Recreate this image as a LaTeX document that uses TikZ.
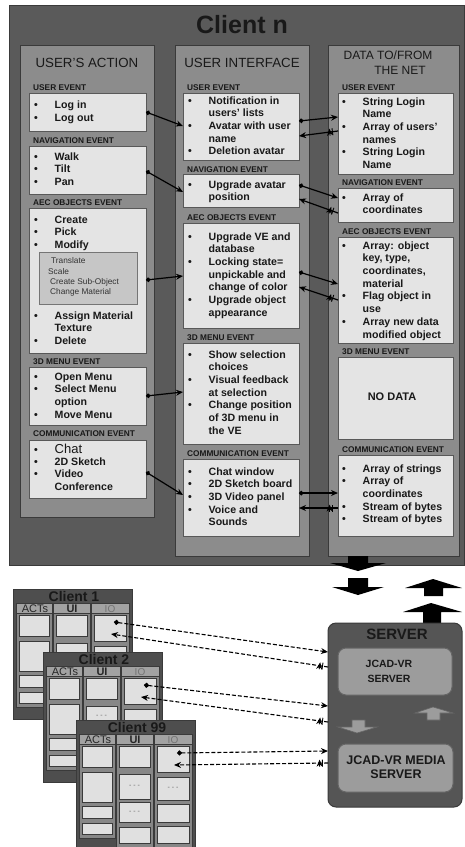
\documentclass[tikz,border=0pt]{standalone}
\usepackage{fontspec}
\setmainfont{Liberation Sans}
\usetikzlibrary{arrows.meta,decorations.markings}

\definecolor{outerc}{HTML}{5A5A5A}
\definecolor{colc}{HTML}{8C8C8C}
\definecolor{boxc}{HTML}{E4E4E4}
\definecolor{edgec}{HTML}{3A3A3A}
\definecolor{subc}{HTML}{C6C6C6}
\definecolor{srvc}{HTML}{555555}
\definecolor{srvinc}{HTML}{9C9C9C}
\definecolor{mcoutc}{HTML}{4E4E4E}
\definecolor{mccolc}{HTML}{878787}
\definecolor{mchdrc}{HTML}{A2A2A2}
\definecolor{mcboxc}{HTML}{E0E0E0}

\newcommand{\myitem}{\fontsize{10.6}{12.7}\selectfont\bfseries}
\newcommand{\mysec}{\fontsize{8.3}{9}\selectfont\bfseries}
\newcommand{\myhdr}{\fontsize{13.3}{14}\selectfont}
\newcommand{\mybul}{\strut\makebox[20.5pt][l]{\textbullet}}
\newcommand{\mycnt}{\strut\hspace*{20.5pt}}

\newcommand{\bx}[6]{\node[#6, inner sep=0pt, outer sep=0pt, minimum width={#4-#2}, minimum height={#5-#3}, anchor=north west] (#1) at (#2,#3) {};}

\tikzset{
  outerbox/.style={draw=edgec, fill=outerc, line width=0.8pt},
  colbox/.style={draw=edgec, fill=colc, line width=1pt},
  wbox/.style={draw=edgec!85, fill=boxc, line width=1pt},
  subbox/.style={draw=edgec!70, fill=subc, line width=0.8pt},
  items/.style={font=\myitem, align=left, inner sep=0pt, anchor=north west, text=black!90},
  sec/.style={font=\mysec, anchor=base west, inner sep=0pt, text=black!90},
  hdr/.style={font=\myhdr, inner sep=0pt, text=black!90},
  subtxt/.style={font=\fontsize{8.3}{9}\selectfont, anchor=base west, inner sep=0pt, text=black!80},
  conn/.style={draw=black, line width=1.2pt, {Circle[length=4.5pt]}-{Stealth[length=7pt,width=6pt]}},
  connb/.style={draw=black, line width=1.2pt, -{Stealth[length=7pt,width=6pt]}},
  tick/.style={postaction={decorate, decoration={markings, mark=at position 7pt with {\draw[solid, line width=0.9pt] (-1.4,-3.5) -- (-1.4,3.5) (1.4,-3.5) -- (1.4,3.5);}}}},
  dconn/.style={draw=black, line width=1.1pt, dash pattern=on 4pt off 2pt, {Circle[length=5pt]}-{Stealth[length=7pt,width=6pt]}},
  dconnb/.style={draw=black, line width=1.1pt, dash pattern=on 4pt off 2pt, -{Stealth[length=7pt,width=6pt]}},
  blk/.style={fill=black},
  gblk/.style={fill=srvinc, draw=black!60, line width=0.6pt},
  mcout/.style={draw=edgec, fill=mcoutc, line width=0.8pt},
  mccol/.style={draw=edgec, fill=mccolc, line width=0.8pt},
  mchdr/.style={draw=edgec, fill=mchdrc, line width=0.6pt},
  mcbox/.style={draw=edgec, fill=mcboxc, line width=0.8pt},
  dashtxt/.style={font=\fontsize{7}{7}\selectfont, text=black!60, inner sep=0pt},
  srvbox/.style={draw=edgec, fill=srvc, line width=1pt, rounded corners=8pt},
  srvin/.style={draw=black!60, fill=srvinc, line width=1pt, rounded corners=8pt},
}

\newcommand{\miniclient}[4]{%
\begin{scope}[shift={(#2,#3)}]
\bx{#1}{0}{0}{119}{130}{mcout}
\node[font=\fontsize{14}{14}\selectfont\bfseries, anchor=base, inner sep=0pt, text=black!90] (#1-t) at (61,12) {#4};
\bx{#1-ca}{3}{14}{39}{118}{mccol}
\bx{#1-cb}{40}{14}{77}{127}{mccol}
\bx{#1-cc}{78}{14}{116}{127}{mccol}
\bx{#1-ha}{3}{14}{39}{24}{mchdr}
\bx{#1-hb}{40}{14}{77}{24}{mchdr}
\bx{#1-hc}{78}{14}{116}{24}{mchdr}
\node[font=\fontsize{11}{11}\selectfont, anchor=base, inner sep=0pt, text=black!85] (#1-la) at (22,23) {ACTs};
\node[font=\fontsize{11}{11}\selectfont\bfseries, anchor=base, inner sep=0pt, text=black!85] (#1-lb) at (59,23) {UI};
\node[font=\fontsize{10}{10}\selectfont, anchor=base, inner sep=0pt, text=black!55] (#1-lc) at (97,23) {IO};
\bx{#1-a1}{6}{26}{36}{47}{mcbox}
\bx{#1-a2}{6}{52}{36}{82}{mcbox}
\bx{#1-a3}{6}{86}{36}{98}{mcbox}
\bx{#1-a4}{6}{103}{36}{114}{mcbox}
\bx{#1-b1}{43}{26}{74}{47}{mcbox}
\bx{#1-b2}{43}{54}{74}{79}{mcbox}
\bx{#1-b3}{43}{82}{74}{102}{mcbox}
\bx{#1-b4}{43}{107}{74}{123}{mcbox}
\bx{#1-c1}{81}{26}{113}{52}{mcbox}
\bx{#1-c2}{81}{57}{113}{80}{mcbox}
\bx{#1-c3}{81}{84}{113}{102}{mcbox}
\bx{#1-c4}{81}{106}{113}{123}{mcbox}
\coordinate (#1-o) at (101,33);
\coordinate (#1-i) at (98,45);
\end{scope}}

\begin{document}
\begin{tikzpicture}[x=1pt, y=-1pt]
\useasboundingbox (0,0) rectangle (465,847);
\clip (0,0) rectangle (465,847);
\fill[white] (0,0) rectangle (465,847);

% ---------------- Client n ----------------
\bx{clientn}{9}{5}{464}{565}{outerbox}
\node[font=\fontsize{25}{25}\selectfont\bfseries, anchor=base, inner sep=0pt, text=black!90] (titlen) at (242,33) {Client n};

\bx{colA}{20}{45}{154}{517}{colbox}
\bx{colB}{175}{45}{309}{556}{colbox}
\bx{colC}{328}{45}{459}{556}{colbox}

\node[hdr] (hA) at (87,63) {USER'S ACTION};
\node[hdr] (hB) at (242,63) {USER INTERFACE};
\node[hdr, font=\fontsize{12}{12}\selectfont] (hC1) at (388,55) {DATA TO/FROM};
\node[hdr, font=\fontsize{12}{12}\selectfont] (hC2) at (400,70) {THE NET};

% section labels
\node[sec] (sA1) at (33,90) {USER EVENT};
\node[sec] (sA2) at (33,143) {NAVIGATION EVENT};
\node[sec] (sA3) at (33,205) {AEC OBJECTS EVENT};
\node[sec] (sA4) at (33,364) {3D MENU EVENT};
\node[sec] (sA5) at (33,436) {COMMUNICATION EVENT};
\node[sec] (sB1) at (187,90) {USER EVENT};
\node[sec] (sB2) at (187,172) {NAVIGATION EVENT};
\node[sec] (sB3) at (187,220) {AEC OBJECTS EVENT};
\node[sec] (sB4) at (187,340) {3D MENU EVENT};
\node[sec] (sB5) at (187,456) {COMMUNICATION EVENT};
\node[sec] (sC1) at (342,90) {USER EVENT};
\node[sec] (sC2) at (342,185) {NAVIGATION EVENT};
\node[sec] (sC3) at (342,234) {AEC OBJECTS EVENT};
\node[sec] (sC4) at (342,354) {3D MENU EVENT};
\node[sec] (sC5) at (342,452) {COMMUNICATION EVENT};

% white boxes
\bx{ua1}{29}{93}{146}{131}{wbox}
\bx{ua2}{29}{146}{146}{194}{wbox}
\bx{ua3}{29}{208}{146}{353}{wbox}
\bx{ua4}{29}{367}{146}{425}{wbox}
\bx{ua5}{29}{440}{146}{498}{wbox}
\bx{ui1}{183}{93}{299}{160}{wbox}
\bx{ui2}{183}{174}{299}{207}{wbox}
\bx{ui3}{183}{223}{299}{328}{wbox}
\bx{ui4}{183}{343}{299}{444}{wbox}
\bx{ui5}{183}{459}{299}{536}{wbox}
\bx{nd1}{338}{93}{453}{174}{wbox}
\bx{nd2}{338}{188}{453}{222}{wbox}
\bx{nd3}{338}{237}{453}{343}{wbox}
\bx{nd4}{338}{357}{453}{439}{wbox}
\bx{nd5}{338}{455}{453}{536}{wbox}
\bx{subA}{39}{252}{137}{304}{subbox}

% left texts
\node[items] (ta1) at (34,99.6) {\mybul Log in\\\mybul Log out};
\node[items] (ta2) at (34,151.1) {\mybul Walk\\\mybul Tilt\\\mybul Pan};
\node[items] (ta3a) at (34,214.1) {\mybul Create\\\mybul Pick\\\mybul Modify};
\node[subtxt] (tsa) at (51,263) {Translate};
\node[subtxt] (tsb) at (48,274) {Scale};
\node[subtxt] (tsc) at (50,284) {Create Sub-Object};
\node[subtxt] (tsd) at (50,294) {Change Material};
\node[items] (ta3b) at (34,310.1) {\mybul Assign Material\\\mycnt Texture\\\mybul Delete};
\node[items] (ta4) at (34,371.1) {\mybul Open Menu\\\mybul Select Menu\\\mycnt option\\\mybul Move Menu};
\node[items] (ta5a) at (34,444.1) {\mybul{\fontsize{13}{12.7}\selectfont\mdseries Chat}};
\node[items] (ta5b) at (34,456.1) {\mybul 2D Sketch\\\mybul Video\\\mycnt Conference};

% middle texts
\node[items] (tb1) at (188,95.1) {\mybul Notification in\\\mycnt users' lists\\\mybul Avatar with user\\\mycnt name\\\mybul Deletion avatar};
\node[items] (tb2) at (188,179.1) {\mybul Upgrade avatar\\\mycnt position};
\node[items] (tb3) at (188,231.1) {\mybul Upgrade VE and\\\mycnt database\\\mybul Locking state=\\\mycnt unpickable and\\\mycnt change of color\\\mybul Upgrade object\\\mycnt appearance};
\node[items] (tb4) at (188,349.1) {\mybul Show selection\\\mycnt choices\\\mybul Visual feedback\\\mycnt at selection\\\mybul Change position\\\mycnt of 3D menu in\\\mycnt the VE};
\node[items] (tb5) at (188,466.1) {\mybul Chat window\\\mybul 2D Sketch board\\\mybul 3D Video panel\\\mybul Voice and\\\mycnt Sounds};

% right texts
\node[items] (tc1) at (342,96.1) {\mybul String Login\\\mycnt Name\\\mybul Array of users'\\\mycnt names\\\mybul String Login\\\mycnt Name};
\node[items] (tc2) at (342,192.1) {\mybul Array of\\\mycnt coordinates};
\node[items] (tc3) at (342,240.1) {\mybul Array: object\\\mycnt key, type,\\\mycnt coordinates,\\\mycnt material\\\mybul Flag object in\\\mycnt use\\\mybul Array new data\\\mycnt modified object};
\node[font=\fontsize{11}{11}\selectfont\bfseries, inner sep=0pt, text=black!90] (tc4) at (392,397) {NO DATA};
\node[items] (tc5) at (342,463.1) {\mybul Array of strings\\\mybul Array of\\\mycnt coordinates\\\mybul Stream of bytes\\\mybul Stream of bytes};

% connectors left -> middle
\draw[conn] (ua1.east |- 0,112) -- (ui1.west |- 0,126);
\draw[conn] (ua2.east |- 0,171) -- (ui2.west |- 0,192);
\draw[conn] (ua3.east |- 0,280) -- (ui3.west |- 0,276);
\draw[conn] (ua4.east |- 0,396) -- (ui4.west |- 0,392);
\draw[conn] (ua5.east |- 0,472) -- (ui5.west |- 0,495);
% connectors middle <-> right
\draw[conn] (ui1.east |- 0,121) -- (nd1.west |- 0,117);
\draw[connb, tick] (nd1.west |- 0,131) -- (ui1.east |- 0,136);
\draw[conn] (ui2.east |- 0,185) -- (nd2.west |- 0,198);
\draw[connb, tick] (nd2.west |- 0,213) -- (ui2.east |- 0,199);
\draw[conn] (ui3.east |- 0,272) -- (nd3.west |- 0,284);
\draw[connb, tick] (nd3.west |- 0,300) -- (ui3.east |- 0,287);
\draw[conn] (ui5.east |- 0,493) -- (nd5.west |- 0,493);
\draw[connb, tick] (nd5.west |- 0,508) -- (ui5.east |- 0,508);

% block arrows
\fill[blk] (348,556) -- (368,556) -- (368,563) -- (386,563) -- (358,571) -- (330,563) -- (348,563) -- cycle;
\fill[blk] (348,578) -- (368,578) -- (368,587) -- (384,587) -- (358,595) -- (332,587) -- (348,587) -- cycle;
\fill[blk] (424,596) -- (443,596) -- (443,588) -- (462,588) -- (433,579) -- (405,588) -- (424,588) -- cycle;
\fill[blk] (423,623) -- (441,623) -- (441,612) -- (462,612) -- (431,603) -- (403,612) -- (423,612) -- cycle;

% server
\bx{srv}{328}{623}{462}{807}{srvbox}
\node[font=\fontsize{15}{15}\selectfont\bfseries, inner sep=0pt, text=black!90] (srvt) at (397,634) {SERVER};
\bx{jsrv}{338}{648}{452}{695}{srvin}
\node[font=\fontsize{10.5}{15}\selectfont\bfseries, align=center, inner sep=0pt, text=black!90] (jsrvt) at (389,671) {JCAD-VR\\SERVER};
\bx{jmed}{338}{744}{453}{792}{srvin}
\node[font=\fontsize{12.5}{14}\selectfont\bfseries, align=center, inner sep=0pt, text=black!90] (jmedt) at (396,767) {JCAD-VR MEDIA\\SERVER};
\filldraw[gblk] (427,720) -- (440,720) -- (440,713) -- (453,713) -- (433,707) -- (415,713) -- (427,713) -- cycle;
\filldraw[gblk] (352,720) -- (365,720) -- (365,727) -- (377,727) -- (357,733) -- (338,727) -- (352,727) -- cycle;

% mini clients
\miniclient{cl1}{13}{589}{Client 1}
\miniclient{cl2}{43}{652}{Client 2}
\node[dashtxt] (cl2-d1) at (101.5,716.5) {- - -};
\miniclient{cl99}{76}{720}{Client 99}
\node[dashtxt] (cl99-d1) at (134.5,786.5) {- - -};
\node[dashtxt] (cl99-d2) at (134.5,812) {- - -};
\node[dashtxt] (cl99-d3) at (173,788.5) {- - -};

% dashed connectors
\draw[dconn] (cl1-o) -- (srv.west |- 0,652);
\draw[dconnb, tick] (srv.west |- 0,667) -- (cl1-i);
\draw[dconn] (cl2-o) -- (srv.west |- 0,706);
\draw[dconnb, tick] (srv.west |- 0,722) -- (cl2-i);
\draw[dconn] (cl99-o) -- (srv.west |- 0,751);
\draw[dconnb, tick] (srv.west |- 0,763) -- (cl99-i);
\end{tikzpicture}
\end{document}
